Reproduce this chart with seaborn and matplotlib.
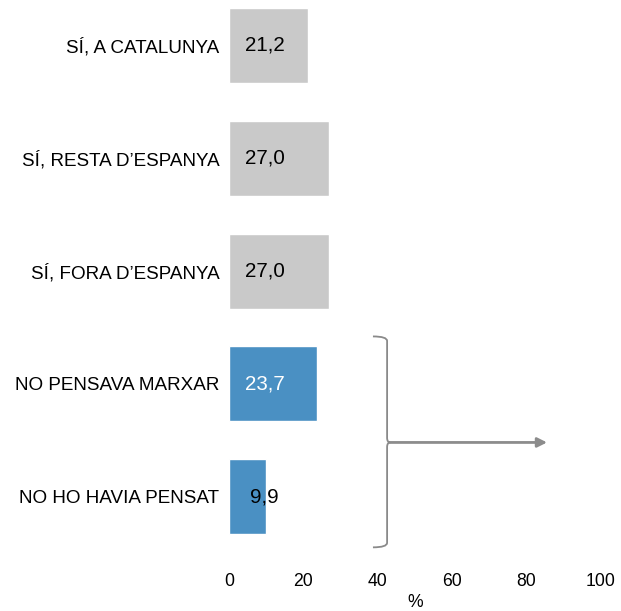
import matplotlib
matplotlib.use("Agg")
import matplotlib.pyplot as plt
from matplotlib.path import Path
from matplotlib.patches import PathPatch, FancyArrowPatch
import seaborn as sns
import pandas as pd

categories = ["SÍ, A CATALUNYA", "SÍ, RESTA D’ESPANYA", "SÍ, FORA D’ESPANYA",
              "NO PENSAVA MARXAR", "NO HO HAVIA PENSAT"]
values = [21.2, 27.0, 27.0, 23.7, 9.9]
bar_colors = ["#C9C9C9", "#C9C9C9", "#C9C9C9", "#4A90C3", "#4A90C3"]
label_colors = ["black", "black", "black", "white", "black"]
x_ticks = [0, 20, 40, 60, 80, 100]

sns.set_theme(style="white")
plt.rcParams["font.family"] = ["Liberation Sans", "DejaVu Sans"]
plt.rcParams["text.color"] = "black"
plt.rcParams["xtick.color"] = "black"
plt.rcParams["ytick.color"] = "black"
plt.rcParams["axes.labelcolor"] = "black"

df = pd.DataFrame({"cat": categories, "val": values})

fig = plt.figure(figsize=(6.21, 6.11), dpi=100)
W, H = 621, 611
ax = fig.add_axes([229 / W, 1 - 562 / H, 372 / W, 562 / H])

sns.barplot(data=df, x="val", y="cat", hue="cat", palette=bar_colors,
            order=categories, hue_order=categories, legend=False,
            width=0.665, saturation=1, ax=ax)

ax.set_xlim(0, 100)
ax.set_ylim(4.58, -0.403)
ax.set_xticks(x_ticks)
ax.set_xticklabels([str(t) for t in x_ticks], fontsize=12.7)
ax.tick_params(axis="y", labelsize=13.6, length=0, pad=7, labelcolor="black")
ax.tick_params(axis="x", length=0, pad=8, labelcolor="black")
ax.set_ylabel("")
ax.set_xlabel("%", fontsize=12.7, labelpad=2.5, color="black")
for s in ax.spines.values():
    s.set_visible(False)

# value labels inside the bars
for i, (v, c) in enumerate(zip(values, label_colors)):
    ax.text(9.6, i, f"{v:.1f}".replace(".", ","), ha="center", va="center",
            fontsize=14.8, color=c)

# brace grouping the two "NO" answers, with an arrow pointing right
bx, hook = 42.5, 3.8
y_top, y_mid, y_bot = 2.58, 3.52, 4.45
r = 0.04
verts = [
    (bx - hook, y_top),
    (bx, y_top), (bx, y_top + r),
    (bx, y_mid - r),
    (bx, y_mid), (bx + 0.9, y_mid),
    (bx, y_mid), (bx, y_mid + r),
    (bx, y_bot - r),
    (bx, y_bot), (bx - hook, y_bot),
]
codes = [Path.MOVETO,
         Path.CURVE3, Path.CURVE3,
         Path.LINETO,
         Path.CURVE3, Path.CURVE3,
         Path.CURVE3, Path.CURVE3,
         Path.LINETO,
         Path.CURVE3, Path.CURVE3]
brace = PathPatch(Path(verts, codes), fill=False, edgecolor="#8A8A8A",
                  lw=1.3, clip_on=False)
ax.add_patch(brace)

arrow = FancyArrowPatch((bx + 0.9, y_mid), (85.5, y_mid), arrowstyle="-|>",
                        mutation_scale=14, color="#8C8C8C", lw=2,
                        clip_on=False, shrinkA=0, shrinkB=0)
ax.add_patch(arrow)

fig.savefig("out.png", dpi=100)
